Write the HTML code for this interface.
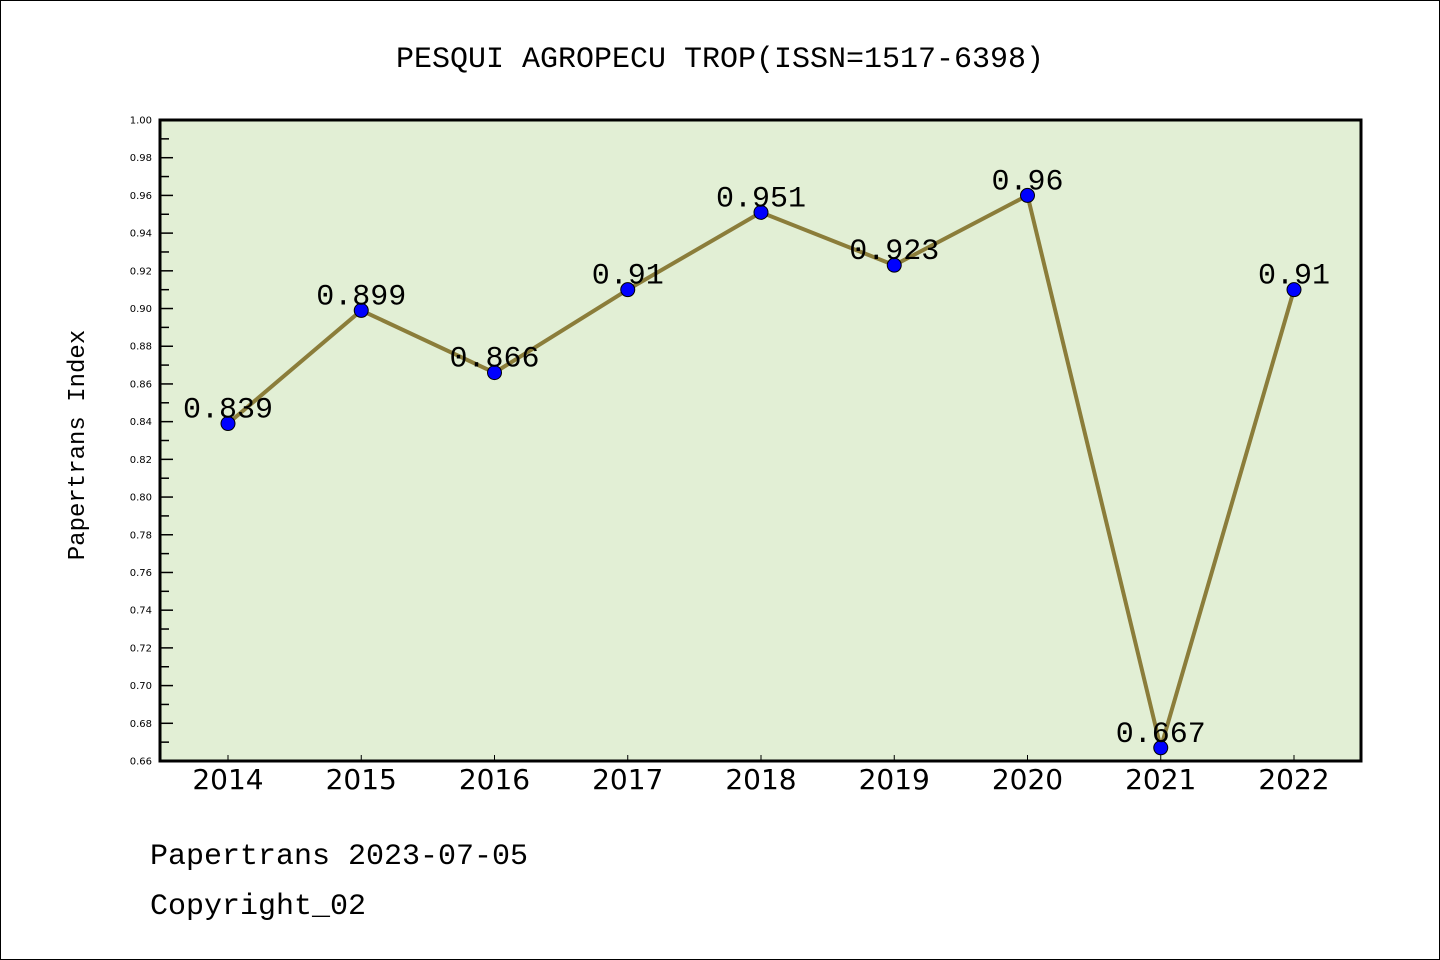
<!DOCTYPE html>
<html><head><meta charset="utf-8"><style>
body{margin:0;background:#fff}
svg{display:block}
</style></head><body>
<svg width="1440" height="960" xmlns="http://www.w3.org/2000/svg">
<rect x="0.5" y="0.5" width="1439" height="959" fill="#fff" stroke="#000" stroke-width="1"/>
<text x="720" y="67" text-anchor="middle" font-family="'WenQuanYi Zen Hei','Liberation Mono',monospace" font-size="30">PESQUI AGROPECU TROP(ISSN=1517-6398)</text>
<rect x="160" y="120" width="1201" height="641" fill="#e2efd5"/>
<g id="yaxis"></g>
<g id="xaxis"></g>
<g id="series"></g>
<rect x="160" y="120" width="1201" height="641" fill="none" stroke="#000" stroke-width="3"/>
<text transform="translate(84,445) rotate(-90)" text-anchor="middle" font-family="'WenQuanYi Zen Hei','Liberation Mono',monospace" font-size="24">Papertrans Index</text>
<text x="150" y="864" font-family="'WenQuanYi Zen Hei','Liberation Mono',monospace" font-size="30">Papertrans 2023-07-05</text>
<text x="150" y="914" font-family="'WenQuanYi Zen Hei','Liberation Mono',monospace" font-size="30">Copyright_02</text>
</svg>
<script>
const years=["2014","2015","2016","2017","2018","2019","2020","2021","2022"];
const values=[0.839,0.899,0.866,0.91,0.951,0.923,0.96,0.667,0.91];
const valueLabels=["0.839","0.899","0.866","0.91","0.951","0.923","0.96","0.667","0.91"];
const yTicks=[0.66,0.68,0.70,0.72,0.74,0.76,0.78,0.80,0.82,0.84,0.86,0.88,0.90,0.92,0.94,0.96,0.98,1.00];
const yMin=0.66,yMax=1.00;
const NS="http://www.w3.org/2000/svg";
function y(v){return 761-(v-yMin)/(yMax-yMin)*641;}
function x(i){return 228+i*(1294-228)/(years.length-1);}
function mk(tag,attrs,parent){const e=document.createElementNS(NS,tag);for(const k in attrs)e.setAttribute(k,attrs[k]);parent.appendChild(e);return e;}
const ya=document.getElementById('yaxis'),xa=document.getElementById('xaxis'),se=document.getElementById('series');
yTicks.forEach((t,i)=>{
  const l=mk('line',{x1:160,x2:173,y1:y(t),y2:y(t),stroke:'#000','stroke-width':1.5},ya);
  
  
  const tx=mk('text',{x:152,y:y(t)+3.5,'text-anchor':'end','font-family':'DejaVu Sans,sans-serif','font-size':10},ya);
  tx.textContent=t.toFixed(2);
  
  
  if(i<yTicks.length-1){
    const m=mk('line',{x1:160,x2:169,y1:y(t+0.01),y2:y(t+0.01),stroke:'#000','stroke-width':1.5},ya);
    
    
  }
});
years.forEach((yr,i)=>{
  const l=mk('line',{x1:x(i),x2:x(i),y1:761,y2:755,stroke:'#000','stroke-width':1},xa);
  
  
  const tx=mk('text',{x:x(i),y:789,'text-anchor':'middle','font-family':'DejaVu Sans,sans-serif','font-size':28},xa);
  tx.textContent=yr;
  
  
});
const pts=values.map((v,i)=>x(i)+','+y(v)).join(' ');
const pl=mk('polyline',{points:pts,fill:'none',stroke:'#8b7d3a','stroke-width':4,'stroke-linejoin':'round'},se);


values.forEach((v,i)=>{
  const c=mk('circle',{cx:x(i),cy:y(v),r:7,fill:'#0000ff',stroke:'#000','stroke-width':1},se);
  
  
});
values.forEach((v,i)=>{
  const t=mk('text',{x:x(i),y:y(v)-6,'text-anchor':'middle','font-family':"'WenQuanYi Zen Hei','Liberation Mono',monospace",'font-size':30},se);
  t.textContent=valueLabels[i];
  
  
});
</script>
</body></html>
